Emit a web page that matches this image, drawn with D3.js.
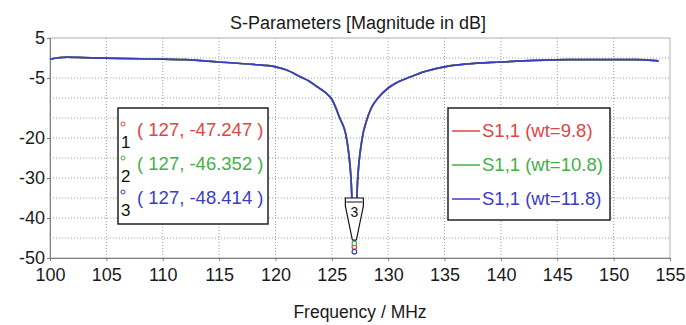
<!DOCTYPE html>
<html>
<head>
<meta charset="utf-8">
<script src="https://cdn.jsdelivr.net/npm/d3@7"></script>
<style>
	body { margin: 0; background: #fff; }
	text { font-family: "Liberation Sans", Arial, sans-serif; }
	.grid line { stroke: #9a9a9a; stroke-dasharray: 1,2; }
</style>
</head>
<body>
<div id="vis"></div>
<script>
// frequency samples (MHz)
var freq = [100, 101.5, 103, 106, 110, 112, 115, 118, 120, 121, 122.2, 123, 123.7, 124.5, 125, 125.7, 126.3,
	126.7, 127, 127.3, 127.7, 128.1, 128.5, 129.1, 130, 131, 132, 133, 135, 137, 140, 143, 146, 150, 152, 154];

// S1,1 magnitude in dB, one array per weight (the three traces overlap)
var s11_wt98 = [-0.3, 0.2, 0.1, -0.1, -0.3, -0.4, -1.0, -1.6, -2.2, -3.0, -4.7, -5.8, -7.2, -8.8, -10.3, -15, -20,
	-30, -47.247, -30, -20, -15.5, -12.5, -10, -7.5, -5.8, -4.7, -3.6, -2.2, -1.5, -1.0, -0.6, -0.4, -0.4, -0.4, -0.7];
var s11_wt108 = [-0.3, 0.2, 0.1, -0.1, -0.3, -0.4, -1.0, -1.6, -2.2, -3.0, -4.7, -5.8, -7.2, -8.8, -10.3, -15, -20,
	-30, -46.352, -30, -20, -15.5, -12.5, -10, -7.5, -5.8, -4.7, -3.6, -2.2, -1.5, -1.0, -0.6, -0.4, -0.4, -0.4, -0.7];
var s11_wt118 = [-0.3, 0.2, 0.1, -0.1, -0.3, -0.4, -1.0, -1.6, -2.2, -3.0, -4.7, -5.8, -7.2, -8.8, -10.3, -15, -20,
	-30, -48.414, -30, -20, -15.5, -12.5, -10, -7.5, -5.8, -4.7, -3.6, -2.2, -1.5, -1.0, -0.6, -0.4, -0.4, -0.4, -0.7];

var seriesNames = ["S1,1 (wt=9.8)", "S1,1 (wt=10.8)", "S1,1 (wt=11.8)"];
var seriesColors = ["#e04444", "#44b044", "#3c3cc4"];

// markers: frequency and value of each trace at the dip
var markerFreq = [127, 127, 127];
var markerValues = [-47.247, -46.352, -48.414];

var xTicks = [100, 105, 110, 115, 120, 125, 130, 135, 140, 145, 150, 155];
var yGrid = [5, 0, -5, -10, -15, -20, -25, -30, -35, -40, -45, -50];
var yLabels = [5, -5, -20, -30, -40, -50];

var W = 686, H = 325;
var margin = { top: 38, left: 50, bottom: 67, right: 16 };
var width = W - margin.left - margin.right;
var height = H - margin.top - margin.bottom;

var x = d3.scaleLinear().domain([100, 155]).range([0, width]);
var y = d3.scaleLinear().domain([-50, 5]).range([height, 0]);

// plain hyphen for negatives, like the original software
var plain = function (d) { return String(d); };

var svg = d3.select('#vis').append('svg')
	.attr('width', W)
	.attr('height', H);

var g = svg.append('g').attr('transform', 'translate(' + margin.left + ',' + margin.top + ')');

// grid
g.append('g').attr('class', 'grid')
	.selectAll('line').data(xTicks.slice(1, -1)).enter().append('line')
	.attr('x1', function (d) { return x(d); }).attr('x2', function (d) { return x(d); })
	.attr('y1', 0).attr('y2', height);

g.append('g').attr('class', 'grid')
	.selectAll('line').data(yGrid.slice(1, -1)).enter().append('line')
	.attr('x1', 0).attr('x2', width)
	.attr('y1', function (d) { return y(d); }).attr('y2', function (d) { return y(d); });

// frame
g.append('rect')
	.attr('width', width).attr('height', height)
	.attr('fill', 'none').attr('stroke', '#b0b0b0');

// axes
var xAxis = g.append('g')
	.attr('transform', 'translate(0,' + height + ')')
	.call(d3.axisBottom(x).tickValues(xTicks).tickSize(3).tickPadding(3).tickFormat(plain));
var yAxis = g.append('g')
	.call(d3.axisLeft(y).tickValues(yLabels).tickSize(3).tickPadding(2).tickFormat(plain));

[xAxis, yAxis].forEach(function (a) {
	a.select('.domain').attr('stroke', '#808080');
	a.selectAll('.tick line').attr('stroke', '#808080');
	a.selectAll('text').attr('fill', '#1a1a1a').style('font-size', '18px');
});
xAxis.selectAll('text').attr('dy', '0.92em');

// traces
var line = d3.line()
	.x(function (d) { return x(d[0]); })
	.y(function (d) { return y(d[1]); })
	.curve(d3.curveMonotoneX);

[s11_wt98, s11_wt108, s11_wt118].forEach(function (s, i) {
	g.append('path')
		.datum(d3.zip(freq, s))
		.attr('fill', 'none')
		.attr('stroke', seriesColors[i])
		.attr('stroke-width', 1.7)
		.attr('d', line);
});

// marker tag on the curve
var mx = x(markerFreq[0]);
var tagTop = y(-35), tagTip = y(-45.5);
g.append('path')
	.attr('d', 'M' + (mx - 9) + ',' + tagTop + 'H' + (mx + 9) + 'V' + (tagTop + 8) +
		'L' + (mx + 2) + ',' + tagTip + 'L' + (mx - 2) + ',' + tagTip + 'L' + (mx - 9) + ',' + (tagTop + 8) + 'Z')
	.attr('fill', '#fff').attr('stroke', '#111').attr('stroke-width', 1.2);
g.append('line')
	.attr('x1', mx - 8).attr('x2', mx + 8)
	.attr('y1', tagTop + 4).attr('y2', tagTop + 4)
	.attr('stroke', '#111');
g.append('text')
	.attr('x', mx).attr('y', tagTop + 19)
	.attr('text-anchor', 'middle')
	.style('font-size', '14px')
	.attr('fill', '#111')
	.text('3');

g.selectAll('.mk').data(markerValues).enter().append('circle')
	.attr('cx', function (d, i) { return x(markerFreq[i]); })
	.attr('cy', function (d) { return y(d); })
	.attr('r', 2.3)
	.attr('fill', '#fff')
	.attr('stroke', function (d, i) { return seriesColors[i]; })
	.attr('stroke-width', 1.2);

// marker readout box
svg.append('rect')
	.attr('x', 118).attr('y', 108).attr('width', 150).attr('height', 116)
	.attr('fill', '#fff').attr('stroke', '#222').attr('stroke-width', 1.5);

markerValues.forEach(function (v, i) {
	var cy = 130 + i * 34;
	svg.append('circle')
		.attr('cx', 123).attr('cy', cy - 6).attr('r', 2)
		.attr('fill', 'none').attr('stroke', seriesColors[i]);
	svg.append('text')
		.attr('x', 121).attr('y', cy + 18)
		.style('font-size', '17px').attr('fill', '#111')
		.text(i + 1);
	svg.append('text')
		.attr('x', 137).attr('y', cy + 6)
		.style('font-size', '18.5px')
		.attr('fill', seriesColors[i])
		.text('( ' + markerFreq[i] + ', ' + v.toFixed(3) + ' )');
});

// legend
svg.append('rect')
	.attr('x', 448).attr('y', 108).attr('width', 162).attr('height', 112)
	.attr('fill', '#fff').attr('stroke', '#222').attr('stroke-width', 1.5);

seriesNames.forEach(function (n, i) {
	var cy = 131 + i * 34;
	svg.append('line')
		.attr('x1', 452).attr('x2', 480)
		.attr('y1', cy).attr('y2', cy)
		.attr('stroke', seriesColors[i]).attr('stroke-width', 1.5);
	svg.append('text')
		.attr('x', 482).attr('y', cy + 6)
		.style('font-size', '18.5px')
		.attr('fill', seriesColors[i])
		.text(n);
});

// titles
svg.append('text')
	.attr('x', 358).attr('y', 29)
	.attr('text-anchor', 'middle')
	.style('font-size', '18px').attr('fill', '#1a1a1a')
	.text('S-Parameters [Magnitude in dB]');

svg.append('text')
	.attr('x', 360).attr('y', 318)
	.attr('text-anchor', 'middle')
	.style('font-size', '17.5px').attr('fill', '#1a1a1a')
	.text('Frequency / MHz');
</script>
</body>
</html>
